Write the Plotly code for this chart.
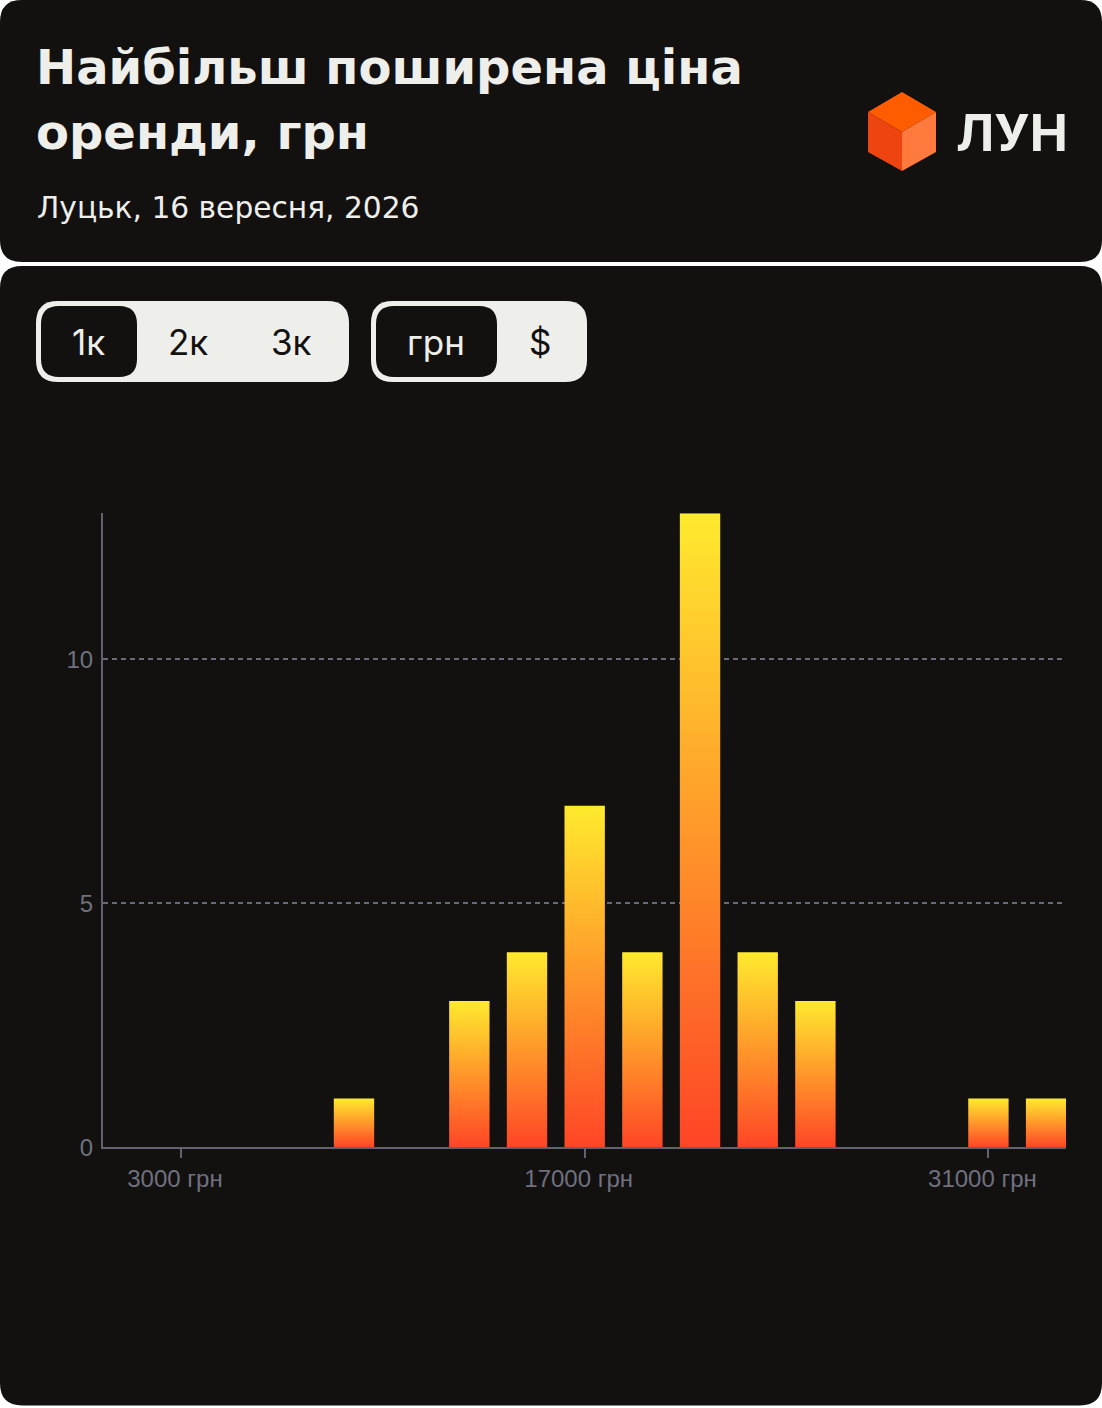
import plotly.graph_objects as go

# ---- data ----
prices = [9000, 13000, 15000, 17000, 19000, 21000, 23000, 25000, 31000, 33000]
counts = [1, 3, 4, 7, 4, 13, 4, 3, 1, 1]
x_tickvals = [3000, 17000, 31000]
x_ticktext = ["3000 грн", "17000 грн", "31000 грн"]
y_tickvals = [0, 5, 10]
y_ticktext = ["0", "5", "10"]
title_lines = ["Найбільш поширена ціна", "оренди, грн"]
subtitle = "Луцьк, 16 вересня, 2026"
rooms = ["1к", "2к", "3к"]
currencies = ["грн", "$"]

W, H = 1102, 1408
K = 1421.5 / 1408  # compensates the vertical squeeze of the capture
BG = "#121110"
LIGHT = "#EEEEEA"
AXIS = "#62626f"
GRID = "#6a6a7b"
LABEL = "#70707f"
BAR_W = 1400


def yy(y):
    return 1 - (y * K) / H


def px(x, y):
    return f"{x / W:.5f},{yy(y):.5f}"


def rrect(x0, y0, x1, y1, r):
    return (
        f"M{px(x0 + r, y0)} L{px(x1 - r, y0)} Q{px(x1, y0)} {px(x1, y0 + r)} "
        f"L{px(x1, y1 - r)} Q{px(x1, y1)} {px(x1 - r, y1)} "
        f"L{px(x0 + r, y1)} Q{px(x0, y1)} {px(x0, y1 - r)} "
        f"L{px(x0, y0 + r)} Q{px(x0, y0)} {px(x0 + r, y0)} Z"
    )


fig = go.Figure()

for p, c in zip(prices, counts):
    x0, x1 = p - BAR_W / 2, p + BAR_W / 2
    fig.add_trace(go.Scatter(
        x=[x0, x0, x1, x1, x0], y=[0, c, c, 0, 0],
        mode="lines", fill="toself", line=dict(width=0),
        fillgradient=dict(type="vertical",
                          colorscale=[[0, "#FF4526"], [1, "#FFEA2E"]]),
        showlegend=False, hoverinfo="skip",
    ))

shapes = []
# cards
shapes.append(dict(type="path", path=rrect(0, 0, W, 262, 22), xref="paper", yref="paper",
                   fillcolor=BG, line=dict(width=0), layer="below"))
shapes.append(dict(type="path", path=rrect(0, 266, W, 1405, 22), xref="paper", yref="paper",
                   fillcolor=BG, line=dict(width=0), layer="below"))
# toggles
shapes.append(dict(type="path", path=rrect(36, 301, 349, 382, 22), xref="paper", yref="paper",
                   fillcolor=LIGHT, line=dict(width=0), layer="below"))
shapes.append(dict(type="path", path=rrect(41, 306, 137, 377, 18), xref="paper", yref="paper",
                   fillcolor=BG, line=dict(width=0), layer="below"))
shapes.append(dict(type="path", path=rrect(371, 301, 587, 382, 22), xref="paper", yref="paper",
                   fillcolor=LIGHT, line=dict(width=0), layer="below"))
shapes.append(dict(type="path", path=rrect(376, 306, 497, 377, 18), xref="paper", yref="paper",
                   fillcolor=BG, line=dict(width=0), layer="below"))
# logo cube
top = f"M{px(902, 92)} L{px(936, 112)} L{px(902, 132)} L{px(868, 112)} Z"
left = f"M{px(868, 112)} L{px(902, 132)} L{px(902, 171)} L{px(868, 152)} Z"
right = f"M{px(902, 132)} L{px(936, 112)} L{px(936, 152)} L{px(902, 171)} Z"
for pth, col in [(top, "#FF5C00"), (left, "#EE4410"), (right, "#FF7A3C")]:
    shapes.append(dict(type="path", path=pth, xref="paper", yref="paper",
                       fillcolor=col, line=dict(width=0), layer="above"))

annotations = []


def ann(text, x, y, size, color, weight="normal", xanchor="left", family="Inter"):
    annotations.append(dict(text=text, x=x / W, y=yy(y), xref="paper", yref="paper",
                            xanchor=xanchor, yanchor="middle", showarrow=False,
                            font=dict(family=family, size=size, color=color, weight=weight)))


ann(title_lines[0], 34, 67, 48, LIGHT, "bold", family="DejaVu Sans")
ann(title_lines[1], 34, 132, 48, LIGHT, "bold", family="DejaVu Sans")
ann(subtitle, 35, 207, 29.7, LIGHT, family="DejaVu Sans")
ann("ЛУН", 1012, 132, 51, LIGHT, "bold", xanchor="center")

room_x = [88, 188, 291]
for i, (t, xx) in enumerate(zip(rooms, room_x)):
    ann(t, xx, 342, 35, LIGHT if i == 0 else BG, xanchor="center")
cur_x = [436, 540]
for i, (t, xx) in enumerate(zip(currencies, cur_x)):
    ann(t, xx, 342, 35, LIGHT if i == 0 else BG, xanchor="center")

fig.update_layout(
    autosize=True,
    margin=dict(l=0, r=0, t=0, b=0),
    paper_bgcolor="#FFFFFF",
    plot_bgcolor="rgba(0,0,0,0)",
    shapes=shapes,
    annotations=annotations,
    xaxis=dict(
        domain=[103 / W, 1066 / W],
        range=[297, 33690],
        tickvals=x_tickvals, ticktext=x_ticktext,
        showgrid=False, zeroline=False,
        showline=True, linecolor=AXIS, linewidth=2,
        ticks="outside", ticklen=9, tickwidth=2, tickcolor=AXIS,
        ticklabelstandoff=0, ticklabelshift=-6,
        tickfont=dict(family="Liberation Sans", size=24, color=LABEL),
        fixedrange=True,
    ),
    yaxis=dict(
        domain=[yy(1147), yy(513)],
        range=[0, 13],
        tickvals=y_tickvals, ticktext=y_ticktext,
        showgrid=True, gridcolor=GRID, gridwidth=1.5, griddash="5px,4px",
        zeroline=False,
        showline=True, linecolor=AXIS, linewidth=2,
        ticks="", ticklabelstandoff=3,
        tickfont=dict(family="Liberation Sans", size=24, color=LABEL),
        fixedrange=True,
    ),
)

fig.write_html(
    "out.html",
    config={"displayModeBar": False},
    default_width="1102px; position:absolute; left:0; top:0",
    default_height="1408px",
)
